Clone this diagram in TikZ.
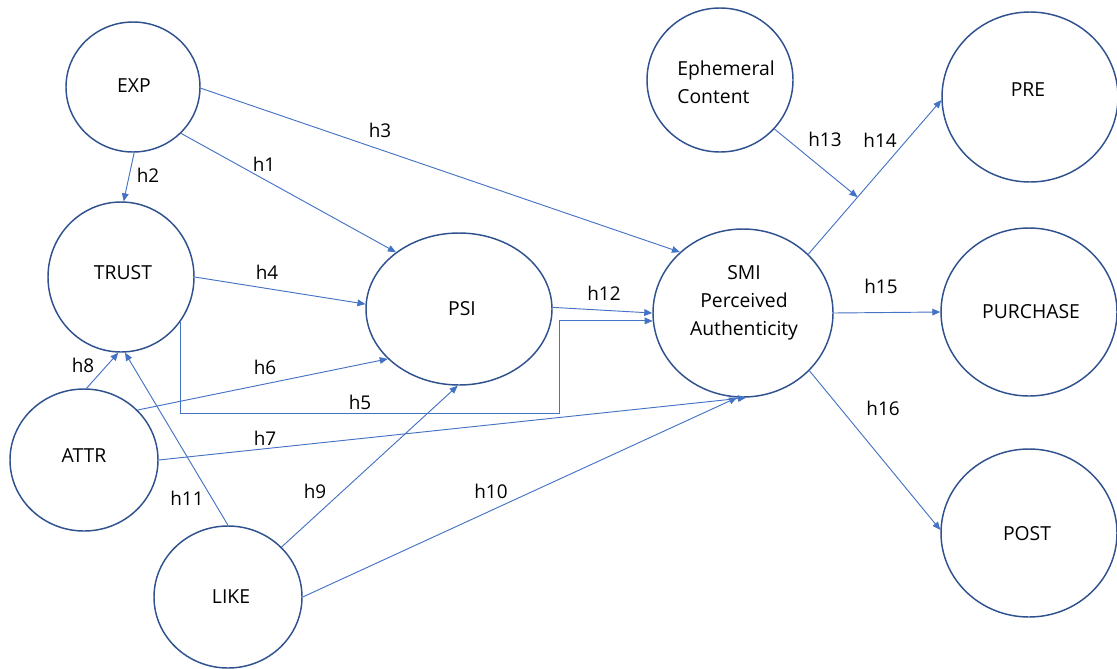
\documentclass[tikz,border=0pt]{standalone}
\usepackage{fontspec}
\setmainfont{Open Sans}
\usetikzlibrary{shapes.geometric,arrows.meta,calc}
\definecolor{circ}{HTML}{2F528F}
\definecolor{arr}{HTML}{4472C4}
\tikzset{
  ell/.style 2 args={ellipse, draw=circ, line width=1.1pt, inner sep=0pt,
    minimum width=#1*1.5pt, minimum height=#2*1.5pt},
  txt/.style={font=\fontsize{14.5}{21}\selectfont, text=black, inner sep=0pt},
  lab/.style={font=\fontsize{14.2}{16}\selectfont, text=black, inner sep=0pt},
  con/.style={draw=arr, line width=0.7pt, -{Triangle[length=6pt,width=5pt]}}
}
\begin{document}
\begin{tikzpicture}[x=0.75pt,y=-0.75pt]
\useasboundingbox (0,0) rectangle (1117,668);
% ellipses
\node[ell={67}{65}] (exp) at (133,87) {};
\node[ell={73}{75}] (trust) at (121,277) {};
\node[ell={74}{71}] (attr) at (84,460) {};
\node[ell={74}{71}] (like) at (228,597) {};
\node[ell={93}{76}] (psi) at (459,309) {};
\node[ell={90}{84}] (smi) at (743,313) {};
\node[ell={73}{72}] (eph) at (720,80) {};
\node[ell={88}{85}] (pre) at (1030,97) {};
\node[ell={88}{84}] (pur) at (1029,312) {};
\node[ell={88}{84}] (post) at (1029,533) {};
% texts
\node[txt] (expt) at (134,86) {EXP};
\node[txt] (trustt) at (123,273) {TRUST};
\node[txt] (attrt) at (84,456) {ATTR};
\node[txt] (liket) at (231,597) {LIKE};
\node[txt] (psit) at (462,309) {PSI};
\node[txt,align=center] (smit) at (744,303) {SMI\\Perceived\\Authenticity};
\node[txt,align=left] (epht) at (726,82) {Ephemeral\\Content};
\node[txt] (pret) at (1028,90) {PRE};
\node[txt] (purt) at (1031,312) {PURCHASE};
\node[txt] (postt) at (1027,534) {POST};
% connectors
\draw[con] (exp.-89) -- (trust.88);
\draw[con] (exp.-44) -- (psi.138.6);
\draw[con] (exp.-1.7) -- (smi.136.4);
\draw[con] (trust.-0.8) -- (psi.177.6);
\coordinate (h5a) at (559,413);
\draw[con] (trust.-37) |- (h5a) |- (smi.185.3);
\draw[con] (attr.43.4) -- (psi.215.9);
\draw[con] (attr.-0.8) -- (smi.-88);
\draw[con] (attr.88) -- (trust.268);
\draw[con] (like.90) -- (trust.273);
\draw[con] (like.43.3) -- (psi.-91);
\draw[con] (like.0) -- (smi.-94);
\draw[con] (psi.1) -- (smi.180);
\draw[con] (smi.42.7) -- (pre.182);
\coordinate (h13e) at ($(smi.42.7)!0.37!(pre.182)$);
\draw[con] (eph.-42.8) -- (h13e);
\draw[con] (smi.0) -- (pur.180);
\draw[con] (smi.-41.8) -- (post.178);
% labels
\node[lab] (l1) at (264,164) {h1};
\node[lab] (l2) at (148,175) {h2};
\node[lab] (l3) at (380,130) {h3};
\node[lab] (l4) at (267,272) {h4};
\node[lab] (l5) at (360,402) {h5};
\node[lab] (l6) at (265,367) {h6};
\node[lab] (l7) at (265,438) {h7};
\node[lab] (l8) at (83,365) {h8};
\node[lab] (l9) at (315,491) {h9};
\node[lab] (l10) at (491,491) {h10};
\node[lab] (l11) at (187,498) {h11};
\node[lab] (l12) at (604,293) {h12};
\node[lab] (l13) at (825,139) {h13};
\node[lab] (l14) at (880,140) {h14};
\node[lab] (l15) at (881,286) {h15};
\node[lab] (l16) at (883,408) {h16};
\end{tikzpicture}
\end{document}
